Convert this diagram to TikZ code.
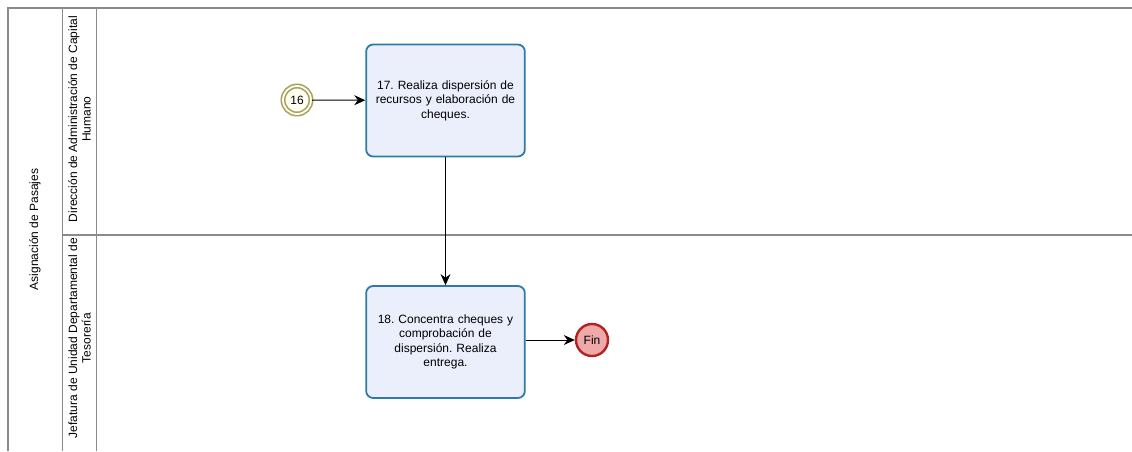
\documentclass[tikz,border=0pt]{standalone}
\usepackage{fontspec}
\setmainfont{Liberation Sans}
\frenchspacing
\usetikzlibrary{arrows.meta}
\definecolor{lanegray}{HTML}{8A8A8A}
\definecolor{taskfill}{HTML}{EBEEFB}
\definecolor{taskdraw}{HTML}{2C7BA8}
\definecolor{startdraw}{HTML}{A8A060}
\definecolor{startfill}{HTML}{FFFFF2}
\definecolor{enddraw}{HTML}{B22222}
\definecolor{endfill}{HTML}{EFA9A9}
\tikzset{
  lane/.style={draw=lanegray, line width=1.2pt},
  task/.style={draw=taskdraw, fill=taskfill, line width=1.8pt, rounded corners=7pt,
     minimum width=158pt, minimum height=112pt, align=center, text width=152pt,
     font=\fontsize{12}{14.5}\selectfont},
  startev/.style={circle, draw=startdraw, fill=startfill, line width=1.6pt, double=startfill,
     double distance=1.8pt, minimum size=28pt, inner sep=0pt, font=\fontsize{12}{14}\selectfont},
  endev/.style={circle, draw=enddraw, fill=endfill, line width=2.4pt, minimum size=32pt,
     inner sep=0pt, font=\fontsize{12}{14}\selectfont},
  flow/.style={-{Stealth[length=11pt,width=10pt]}, line width=1pt, black},
  lbl/.style={rotate=90, align=center, font=\fontsize{12}{13.5}\selectfont}
}
\begin{document}
\begin{tikzpicture}[x=1pt,y=-1pt]
\useasboundingbox (0,0) rectangle (1132,451);
\fill[white] (0,0) rectangle (1132,451);
% pool and lanes
\draw[lane] (8,451) -- (8,8) -- (1132,8);
\draw[lane] (62.5,8) -- (62.5,451);
\draw[lane] (96.5,8) -- (96.5,451);
\draw[lane] (62.5,235) -- (1132,235);
\node[lbl] (pool) at (35,229.5) {Asignación de Pasajes};
\node[lbl] (lane1) at (79.5,119) {Dirección de Administración de Capital\\Humano};
\node[lbl] (lane2) at (79.5,338) {Jefatura de Unidad Departamental de\\Tesorería};
% elements
\node[startev] (s16) at (297,100) {16};
\node[task] (t17) at (445.5,100.5) {17. Realiza dispersión de\\recursos y elaboración de\\cheques.};
\node[task] (t18) at (445.5,342) {18. Concentra cheques y\\comprobación de\\dispersión. Realiza\\entrega.};
\node[endev] (fin) at (592,340) {Fin};
\draw[flow] (s16) -- (t17);
\draw[flow] (t17) -- (t18);
\draw[flow] (t18.east |- fin) -- (fin);
\end{tikzpicture}
\end{document}
